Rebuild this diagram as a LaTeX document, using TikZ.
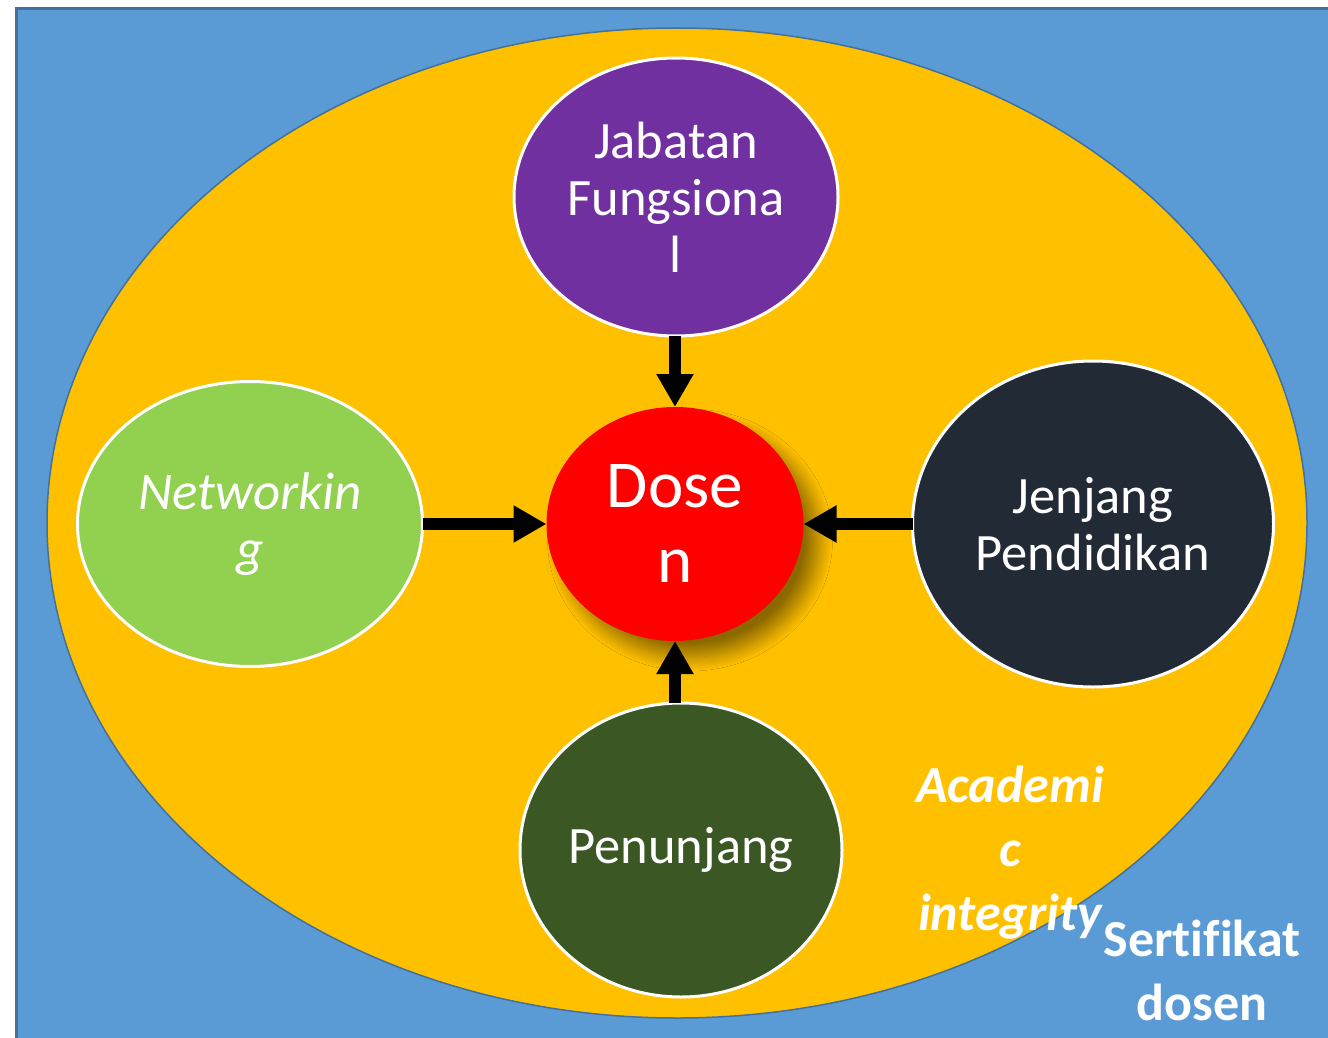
\documentclass[tikz,border=0pt]{standalone}
\usepackage{fontspec}
\setmainfont{Carlito}[Ligatures=NoCommon]
\usetikzlibrary{shapes.geometric,arrows.meta,shadows.blur}
\definecolor{bgblue}{HTML}{5B9BD5}
\definecolor{bordblue}{HTML}{41719C}
\definecolor{yel}{HTML}{FFC000}
\definecolor{purp}{HTML}{7030A0}
\definecolor{lgreen}{HTML}{92D050}
\definecolor{dred}{HTML}{FF0000}
\definecolor{navy}{HTML}{222A35}
\definecolor{dgreen}{HTML}{3A5724}
\begin{document}
\begin{tikzpicture}[x=1pt,y=-1pt,
  bubble/.style={ellipse, draw=white, line width=3pt, inner sep=0pt, outer sep=0pt,
    text=white, align=center, font=\fontsize{52.5}{57}\selectfont},
  arr/.style={line width=12pt, -{Triangle[width=35pt,length=33pt]}, black},
  lbl/.style={text=white, align=center, inner sep=0pt, font=\bfseries\fontsize{52}{64}\selectfont}]
\useasboundingbox (0,0) rectangle (1328,1038);
\fill[white] (0,0) rectangle (1328,1038);
\begin{scope}
\clip (0,0) rectangle (1328,1038);
\draw[line width=3pt, draw=bordblue, fill=bgblue] (16,9) rectangle (1345,1055);
\end{scope}
\node[ellipse, fill=yel, draw=bordblue, line width=1.5pt, inner sep=0pt,
  minimum width=1260pt, minimum height=990pt] (outer) at (677,523) {};
\node[bubble, fill=purp, minimum width=324pt, minimum height=278pt] (jab) at (676,197) {Jabatan\\Fungsiona\\l};
\node[bubble, fill=lgreen, minimum width=345pt, minimum height=285pt, font=\itshape\fontsize{53}{57}\selectfont] (net) at (250,524) {Networkin\\g};
\node[bubble, fill=navy, minimum width=361pt, minimum height=326pt] (jen) at (1093,524) {Jenjang\\Pendidikan};
\node[bubble, fill=dgreen, minimum width=322pt, minimum height=294pt] (pen) at (681,850) {Penunjang};
\node[ellipse, fill=dred, inner sep=0pt, outer sep=0pt, text=white, align=center,
  minimum width=257pt, minimum height=234pt, font=\fontsize{67}{75}\selectfont,
  blur shadow={shadow xshift=15pt, shadow yshift=-16pt, shadow blur radius=14pt, shadow blur steps=24, shadow opacity=45}]
  (dosen) at (675,524) {Dose\\n};
\draw[arr] (dosen.north |- jab.south) -- (dosen.north);
\draw[arr] (net.east) -- (dosen.west);
\draw[arr] (jen.west) -- (dosen.east);
\draw[arr] (dosen.south |- pen.north) -- (dosen.south);
\node[lbl, font=\bfseries\itshape\fontsize{52}{64}\selectfont] (acad) at (1010,853) {Academi\\c\\integrity};
\node[lbl] (sert) at (1202,970) {Sertifikat\\dosen};
\end{tikzpicture}
\end{document}
